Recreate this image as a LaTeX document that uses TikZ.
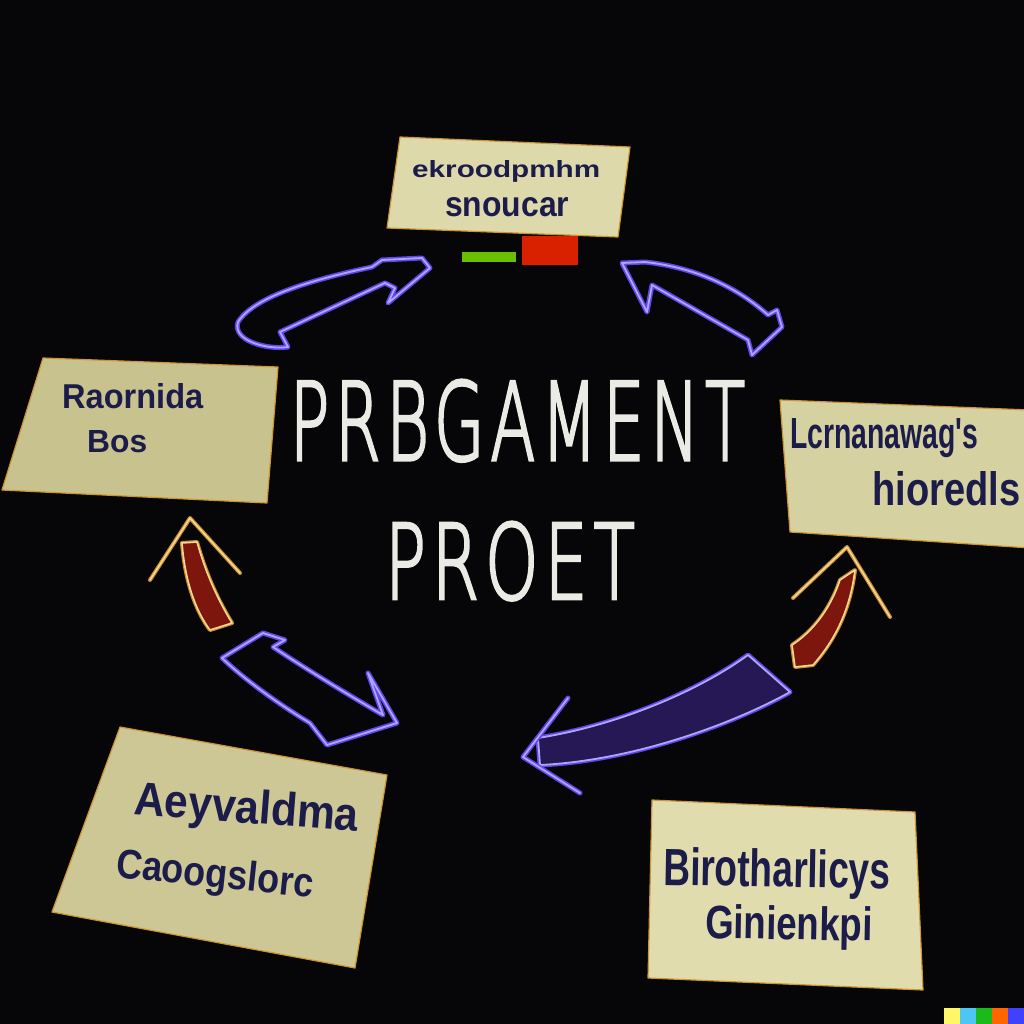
\documentclass[tikz,border=0pt]{standalone}
\usepackage{fontspec}
\usepackage{graphicx}
\usetikzlibrary{positioning}

\newfontfamily\titlefont[LetterSpace=9, FakeBold=3]{DejaVu Sans ExtraLight}
\newfontfamily\cardfont{Liberation Sans}

\definecolor{bgblack}{RGB}{6,6,8}
\definecolor{cardtop}{RGB}{222,217,170}
\definecolor{cardleft}{RGB}{200,194,142}
\definecolor{cardright}{RGB}{214,209,160}
\definecolor{cardbl}{RGB}{204,199,148}
\definecolor{cardbr}{RGB}{224,220,174}
\definecolor{cardedge}{RGB}{205,150,50}
\definecolor{inkblue}{RGB}{28,28,75}
\definecolor{glowviolet}{RGB}{95,70,235}
\definecolor{glowcore}{RGB}{175,165,255}
\definecolor{goldglow}{RGB}{200,140,40}
\definecolor{goldcore}{RGB}{245,215,150}
\definecolor{arrowred}{RGB}{125,22,12}
\definecolor{arrowindigo}{RGB}{38,24,85}
\definecolor{chalk}{RGB}{235,235,230}

\begin{document}
\begin{tikzpicture}[
        x=1pt, y=-1pt,
        card/.style={draw=cardedge, line width=1.2pt, line join=round},
        cardtext/.style={inner sep=0pt, anchor=base west, text=inkblue, font=\cardfont\bfseries},
        chalktext/.style={inner sep=0pt, text=chalk, font=\titlefont},
        glowline/.style={draw=glowcore, line width=1.8pt, line join=round, line cap=round,
                         preaction={draw=glowviolet, line width=5pt, line join=round, line cap=round}},
        goldline/.style={draw=goldcore, line width=1.6pt, line join=round, line cap=round,
                         preaction={draw=goldglow, line width=4pt, line join=round, line cap=round}}
      ]
      \useasboundingbox (0,0) rectangle (1024,1024);
      \clip (0,0) rectangle (1024,1024);
      \fill[bgblack] (0,0) rectangle (1024,1024);

      % cards
      \filldraw[card, fill=cardtop]   (400,137) -- (630,147) -- (618,237) -- (387,228) -- cycle;
      \filldraw[card, fill=cardleft]  (43,358) -- (278,367) -- (267,503) -- (2,490) -- cycle;
      \filldraw[card, fill=cardright] (780,400) -- (1030,410) -- (1030,548) -- (790,532) -- cycle;
      \filldraw[card, fill=cardbl]    (120,727) -- (387,775) -- (355,968) -- (52,912) -- cycle;
      \filldraw[card, fill=cardbr]    (652,800) -- (915,812) -- (923,990) -- (648,978) -- cycle;

      % glitch under the top card
      \fill[green!45!yellow!75!black] (462,252) rectangle (516,262);
      \fill[red!70!orange!85!black]   (522,236) rectangle (578,265);

      % card texts
      \node[cardtext] (topa) at (412,178) {\resizebox{188pt}{17pt}{ekroodpmhm}};
      \node[cardtext] (topb) at (445,216) {\resizebox{124pt}{19pt}{snoucar}};
      \node[cardtext] (lefta) at (62,408) {\resizebox{141pt}{25pt}{Raornida}};
      \node[cardtext] (leftb) at (87,452) {\resizebox{60pt}{22pt}{Bos}};
      \node[cardtext] (righta) at (790,448) {\resizebox{188pt}{30pt}{Lcrnanawag's}};
      \node[cardtext] (rightb) at (872,505) {\resizebox{148pt}{34pt}{hioredls}};
      \node[cardtext, rotate=-4.5] (bla) at (133,814) {\resizebox{225pt}{34pt}{Aeyvaldma}};
      \node[cardtext, rotate=-6] (blb) at (115,877) {\resizebox{198pt}{30pt}{Caoogslorc}};
      \node[cardtext, rotate=-1] (bra) at (663,885) {\resizebox{227pt}{38pt}{Birotharlicys}};
      \node[cardtext, rotate=-1] (brb) at (705,938) {\resizebox{167pt}{34pt}{Ginienkpi}};

      % centre title
      \node[chalktext, anchor=base] (prbgament) at (517.5,460) {\resizebox{455pt}{80pt}{PRBGAMENT}};
      \node[chalktext, below=60pt of prbgament, xshift=-7.5pt] (proet) {\resizebox{250pt}{77pt}{PROET}};

      % arrows round the title
      \draw[glowline] (280,332) -- (385,283) -- (395,288) -- (388,303) -- (430,268) -- (422,258)
                      -- (382,260) -- (372,267) .. controls (320,278) and (255,295) .. (238,322)
                      .. controls (232,340) and (265,350) .. (288,347) -- cycle;
      \draw[glowline] (622,263) -- (647,312) -- (652,285) -- (748,340) -- (752,355) -- (782,327)
                      -- (777,310) -- (768,315) .. controls (740,290) and (700,268) .. (645,262) -- cycle;
      \draw[glowline] (285,640) -- (263,633) -- (222,658) .. controls (245,680) and (280,705) .. (310,723)
                      -- (327,745) -- (397,723) -- (368,673) -- (383,715)
                      .. controls (340,690) and (300,665) .. (273,647) -- cycle;
      \filldraw[glowline, fill=arrowindigo] (538,738) .. controls (620,725) and (700,690) .. (748,655)
                      -- (790,692) .. controls (740,720) and (640,760) .. (540,765) -- cycle;
      \draw[glowline] (568,698) -- (523,757) -- (580,793);
      \filldraw[goldline, fill=arrowred] (182,543) .. controls (185,580) and (195,610) .. (210,630)
                      -- (232,623) .. controls (215,595) and (205,570) .. (197,542) -- cycle;
      \draw[goldline] (150,580) -- (190,518) -- (240,573);
      \filldraw[goldline, fill=arrowred] (840,580) -- (855,570) .. controls (850,610) and (835,640) .. (813,665)
                      -- (795,667) -- (792,645) .. controls (812,632) and (830,610) .. (840,580) -- cycle;
      \draw[goldline] (793,598) -- (847,547) -- (890,617);

      % colour mark
      \fill[yellow!60]        (944,1008) rectangle (960,1024);
      \fill[cyan!70]          (960,1008) rectangle (976,1024);
      \fill[green!70!black!90](976,1008) rectangle (992,1024);
      \fill[orange!80!red]    (992,1008) rectangle (1008,1024);
      \fill[blue!75]          (1008,1008) rectangle (1024,1024);
    \end{tikzpicture}
\end{document}
